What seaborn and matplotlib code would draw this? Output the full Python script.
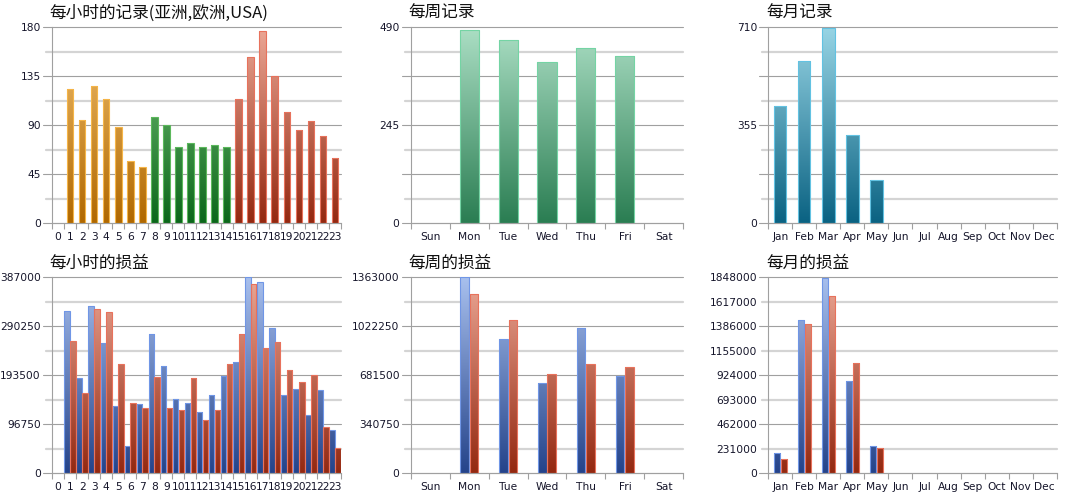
import numpy as np
import pandas as pd
import matplotlib
matplotlib.use("Agg")
import matplotlib.pyplot as plt
import seaborn as sns
from matplotlib.colors import LinearSegmentedColormap

# ---------------- data ----------------
hours = [str(h) for h in range(24)]
hour_region = ["亚洲"] * 8 + ["欧洲"] * 7 + ["USA"] * 9
hour_records = [0, 123, 95, 126, 114, 88, 57, 52, 98, 90, 70, 74, 70, 72, 70,
                114, 153, 177, 135, 102, 86, 94, 80, 60]
hour_pl_a = [0, 320000, 188000, 330000, 258000, 132000, 54000, 137500, 276000,
             212500, 147000, 139000, 120500, 154000, 193000, 219000, 387000,
             378000, 286000, 155000, 167000, 116000, 164000, 85000]
hour_pl_b = [0, 261000, 158000, 324000, 318500, 215000, 138000, 128500, 191000,
             129500, 124500, 188000, 104500, 125500, 216000, 276000, 374000,
             247000, 259000, 204000, 180000, 193500, 91000, 50000]

days = ["Sun", "Mon", "Tue", "Wed", "Thu", "Fri", "Sat"]
day_records = [0, 483, 458, 403, 438, 418, 0]
day_pl_a = [0, 1363000, 936000, 626000, 1008000, 679000, 0]
day_pl_b = [0, 1249000, 1064000, 688000, 760000, 737000, 0]

months = ["Jan", "Feb", "Mar", "Apr", "May", "Jun", "Jul", "Aug", "Sep",
          "Oct", "Nov", "Dec"]
month_records = [426, 589, 708, 320, 158, 0, 0, 0, 0, 0, 0, 0]
month_pl_a = [189000, 1443000, 1842000, 874000, 261000, 0, 0, 0, 0, 0, 0, 0]
month_pl_b = [132000, 1411000, 1675000, 1037000, 242000, 0, 0, 0, 0, 0, 0, 0]

titles = ["每小时的记录(亚洲,欧洲,USA)", "每周记录", "每月记录",
          "每小时的损益", "每周的损益", "每月的损益"]

hour_rec_max = 180
hour_rec_labels = ["0", "", "45", "", "90", "", "135", "", "180"]
day_rec_max = 490
day_rec_labels = ["0", "", "", "", "245", "", "", "", "490"]
month_rec_max = 710
month_rec_labels = ["0", "", "", "", "355", "", "", "", "710"]
hour_pl_max = 387000
hour_pl_labels = ["0", "", "96750", "", "193500", "", "290250", "", "387000"]
day_pl_max = 1363000
day_pl_labels = ["0", "", "340750", "", "681500", "", "1022250", "", "1363000"]
month_pl_max = 1848000
month_pl_labels = ["0", "231000", "462000", "693000", "924000", "1155000",
                   "1386000", "1617000", "1848000"]

# ---------------- style ----------------
sns.set_style("white")
plt.rcParams["font.family"] = ["DejaVu Sans"]
CJK = ["Noto Sans CJK SC", "DejaVu Sans"]
DARK = "#a0a0a0"
LIGHT = "#d4d4d4"
TXT = "#15152a"
FS = 7.7

GRAD = {
    "orange": ("#b06800", "#f2c070", "#f5b548"),
    "green": ("#0b661a", "#80c880", "#5cb85c"),
    "red": ("#932810", "#eca896", "#e8725c"),
    "blue": ("#24438a", "#a8c0ee", "#7096e6"),
    "mint": ("#2a7d52", "#acdfc5", "#74d4a4"),
    "teal": ("#0a6282", "#98d5e5", "#62c2e2"),
}

W, H = 1075, 500
fig = plt.figure(figsize=(W / 100, H / 100), dpi=100)

cols = [(52, 289), (410.7, 272.6), (768.3, 288.4)]
rows = [223.3, 473.3]
ax_h = 196


def make_ax(r, c):
    x0, w = cols[c]
    return fig.add_axes([x0 / W, 1 - rows[r] / H, w / W, ax_h / H])


def paint(ax, patches, key, ymax):
    bottom, top, edge = GRAD[key]
    cmap = LinearSegmentedColormap.from_list("g" + key, [bottom, top])
    grad = np.linspace(0, 1, 256).reshape(-1, 1)
    for p in patches:
        h = p.get_height()
        if not np.isfinite(h) or h <= 0:
            p.set_visible(False)
            continue
        x, w = p.get_x(), p.get_width()
        im = ax.imshow(grad, cmap=cmap, origin="lower", aspect="auto",
                       extent=[x, x + w, 0, ymax], interpolation="bilinear",
                       zorder=2)
        im.set_clip_path(p)
        p.set_facecolor("none")
        p.set_edgecolor(edge)
        p.set_linewidth(0.8)
        p.set_zorder(3)


def finish(ax, cats, ymax, ylabels, title):
    n = len(cats)
    wpx = ax.get_position().width * W
    ticks = np.linspace(0, ymax, 9)
    for i, t in enumerate(ticks):
        if i % 2 == 0:
            ax.axhline(t, xmin=-9 / wpx, xmax=1, color=DARK, lw=0.8,
                       clip_on=False, zorder=1)
        else:
            ax.axhline(t, xmin=-6 / wpx, xmax=1, color=LIGHT, lw=1.6,
                       clip_on=False, zorder=1)
    ax.set_yticks(ticks)
    ax.set_yticklabels(ylabels)
    ax.tick_params(axis="y", length=0, pad=8, labelsize=FS, labelcolor=TXT)
    ax.set_xticks(np.arange(-0.5, n, 1))
    ax.set_xticklabels([])
    ax.set_xticks(np.arange(n), minor=True)
    ax.set_xticklabels(cats, minor=True)
    ax.tick_params(axis="x", which="major", length=4.5, width=0.8, color=DARK,
                   direction="out", bottom=True)
    ax.tick_params(axis="x", which="minor", length=0, pad=6.5, labelsize=FS,
                   labelcolor=TXT, bottom=True)
    ax.set_xlim(-0.5, n - 0.5)
    ax.set_ylim(0, ymax)
    for s in ["top", "right"]:
        ax.spines[s].set_visible(False)
    for s in ["left", "bottom"]:
        ax.spines[s].set_color(DARK)
        ax.spines[s].set_linewidth(0.8)
        ax.spines[s].set_zorder(4)
    ax.set_xlabel("")
    ax.set_ylabel("")
    ax.set_title(title, loc="left", x=-0.008, pad=6.5, fontsize=12,
                 family=CJK, color="#111111")


# ---- hourly records ----
ax = make_ax(0, 0)
df = pd.DataFrame({"hour": hours, "region": hour_region, "v": hour_records})
sns.barplot(data=df, x="hour", y="v", hue="region", order=hours,
            hue_order=["亚洲", "欧洲", "USA"], dodge=False, width=0.55,
            palette=["#d08a30", "#2a8a3a", "#c05a40"], legend=False,
            errorbar=None, ax=ax)
for cont, key in zip(ax.containers, ["orange", "green", "red"]):
    paint(ax, cont.patches, key, hour_rec_max)
finish(ax, hours, hour_rec_max, hour_rec_labels, titles[0])

# ---- weekly records ----
ax = make_ax(0, 1)
df = pd.DataFrame({"day": days, "v": day_records})
sns.barplot(data=df, x="day", y="v", order=days, width=0.49,
            color="#5aaa80", errorbar=None, ax=ax)
paint(ax, ax.containers[0].patches, "mint", day_rec_max)
finish(ax, days, day_rec_max, day_rec_labels, titles[1])

# ---- monthly records ----
ax = make_ax(0, 2)
df = pd.DataFrame({"month": months, "v": month_records})
sns.barplot(data=df, x="month", y="v", order=months, width=0.51,
            color="#3a90b0", errorbar=None, ax=ax)
paint(ax, ax.containers[0].patches, "teal", month_rec_max)
finish(ax, months, month_rec_max, month_rec_labels, titles[2])


def pl_panel(r, c, cats, a, b, ymax, labels, title, width, gap):
    ax = make_ax(r, c)
    df = pd.DataFrame({"cat": cats * 2,
                       "series": ["A"] * len(cats) + ["B"] * len(cats),
                       "v": list(a) + list(b)})
    sns.barplot(data=df, x="cat", y="v", hue="series", order=cats,
                hue_order=["A", "B"], width=width, gap=gap,
                palette=["#4060b0", "#c05030"], legend=False,
                errorbar=None, ax=ax)
    for cont, key in zip(ax.containers, ["blue", "red"]):
        paint(ax, cont.patches, key, ymax)
    finish(ax, cats, ymax, labels, title)


pl_panel(1, 0, hours, hour_pl_a, hour_pl_b, hour_pl_max, hour_pl_labels,
         titles[3], 0.96, 0.04)
pl_panel(1, 1, days, day_pl_a, day_pl_b, day_pl_max, day_pl_labels,
         titles[4], 0.49, 0.1)
pl_panel(1, 2, months, month_pl_a, month_pl_b, month_pl_max, month_pl_labels,
         titles[5], 0.55, 0.06)

fig.savefig("out.png", dpi=100)
